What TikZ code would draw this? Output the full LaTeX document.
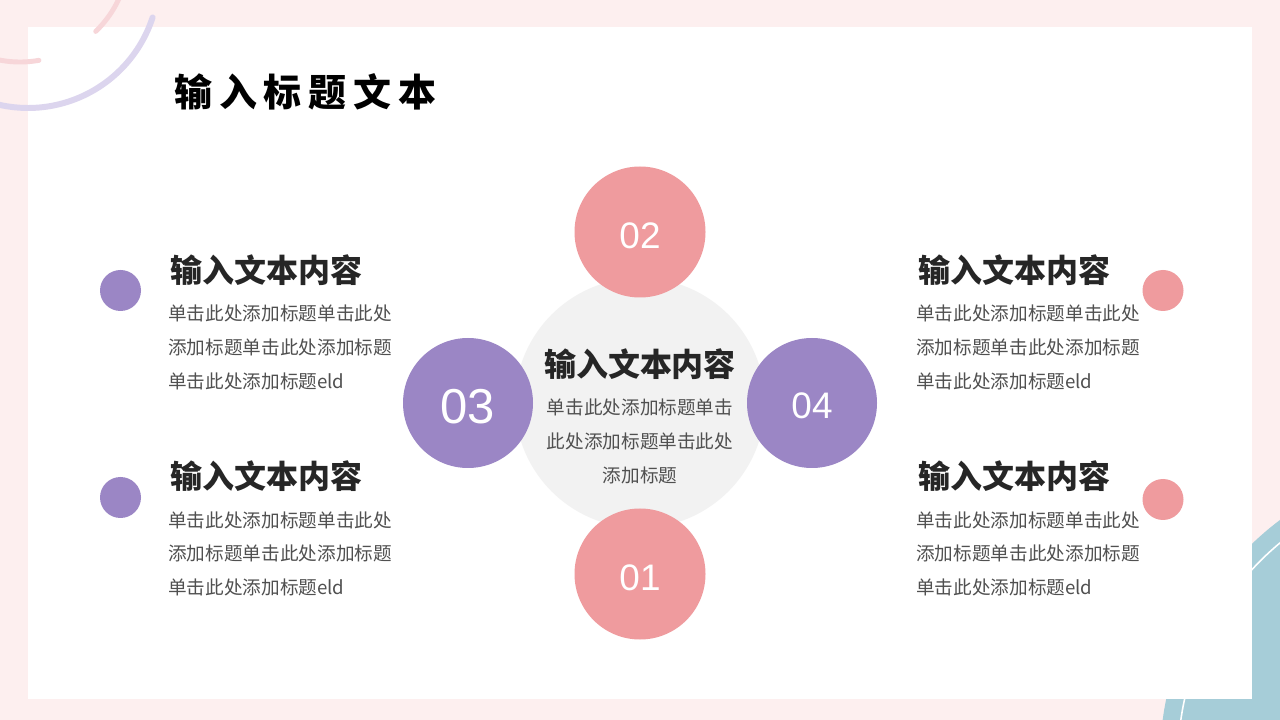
\documentclass[tikz,border=0pt]{standalone}
\usepackage{fontspec}
\usepackage{tikz}
\setmainfont{Liberation Sans}
\newfontfamily\cjk{Noto Sans CJK SC}
\newfontfamily\cjktitle[LetterSpace=18]{Noto Sans CJK SC}
\newfontfamily\numfont{Liberation Sans}
\definecolor{bgpink}{RGB}{253,239,239}
\definecolor{rosec}{RGB}{239,155,158}
\definecolor{violetc}{RGB}{155,134,197}
\definecolor{hubgray}{RGB}{242,242,242}
\definecolor{headc}{RGB}{38,38,38}
\definecolor{bodyc}{RGB}{80,80,80}
\definecolor{lilacarc}{RGB}{220,213,238}
\definecolor{pinkarc}{RGB}{247,214,217}
\definecolor{tealc}{RGB}{166,205,216}

\begin{document}
\begin{tikzpicture}[scale=0.2,
  headtxt/.style={anchor=west, text=headc, font=\cjk\bfseries\fontsize{18.2pt}{20pt}\selectfont},
  bodytxt/.style={anchor=north west, align=left, text=bodyc, font=\cjk\fontsize{10.6pt}{19.1pt}\selectfont},
  numtxt/.style={text=white, font=\numfont\fontsize{21pt}{24pt}\selectfont}]
\tikzstyle{every node}+=[inner sep=0pt]
\clip (0,0) rectangle (128,-72);
\fill [bgpink] (0,0) rectangle (128,-72);
\fill [tealc] (146,-76) circle (30);
\draw [white, line width=0.9pt] (146,-76) circle (28.2);
\fill [white] (2.8,-2.7) rectangle (125.2,-69.9);
\draw [pinkarc, line width=2.8pt, line cap=round] (2,4.7) ++(-10:10.9) arc (-10:-46:10.9);
\draw [pinkarc, line width=2.8pt, line cap=round] (2,4.7) ++(-80:10.9) arc (-80:-115:10.9);
\draw [lilacarc, line width=3.4pt, line cap=round] (2.8,2.3) ++(-18:13.1) arc (-18:-120:13.1);
\draw (17.4,-9.2) node (title) [anchor=west, text=black, font=\cjktitle\bfseries\fontsize{21.6pt}{24pt}\selectfont] {输入标题文本};
\fill [hubgray] (64,-40.3) circle (12.5);
\fill [rosec] (64,-23.2) circle (6.55);
\fill [rosec] (64,-57.4) circle (6.55);
\fill [violetc] (46.8,-40.3) circle (6.5);
\fill [violetc] (81.2,-40.3) circle (6.5);
\draw (64,-23.55) node (n02) [numtxt] {02};
\draw (64,-57.75) node (n01) [numtxt] {01};
\draw (46.8,-40.65) node (n03) [numtxt, font=\numfont\fontsize{27.9pt}{30pt}\selectfont] {03};
\draw (81.2,-40.55) node (n04) [numtxt] {04};
\draw (64,-36.4) node (hubhead) [headtxt, anchor=center] {输入文本内容};
\draw (64,-39.9) node (hubbody) [bodytxt, anchor=north, align=center] {单击此处添加标题单击\\此处添加标题单击此处\\添加标题};
\fill [violetc] (12.05,-29.05) circle (2.05);
\fill [violetc] (12.05,-49.75) circle (2.05);
\fill [rosec] (116.3,-29.05) circle (2.05);
\fill [rosec] (116.3,-49.95) circle (2.05);
\draw (17,-27) node (headLT) [headtxt] {输入文本内容};
\draw (16.8,-30.5) node (bodyLT) [bodytxt] {单击此处添加标题单击此处\\添加标题单击此处添加标题\\单击此处添加标题eld};
\draw (17,-47.6) node (headLB) [headtxt] {输入文本内容};
\draw (16.8,-51.1) node (bodyLB) [bodytxt] {单击此处添加标题单击此处\\添加标题单击此处添加标题\\单击此处添加标题eld};
\draw (91.8,-27) node (headRT) [headtxt] {输入文本内容};
\draw (91.6,-30.5) node (bodyRT) [bodytxt] {单击此处添加标题单击此处\\添加标题单击此处添加标题\\单击此处添加标题eld};
\draw (91.8,-47.6) node (headRB) [headtxt] {输入文本内容};
\draw (91.6,-51.1) node (bodyRB) [bodytxt] {单击此处添加标题单击此处\\添加标题单击此处添加标题\\单击此处添加标题eld};
\end{tikzpicture}
\end{document}
